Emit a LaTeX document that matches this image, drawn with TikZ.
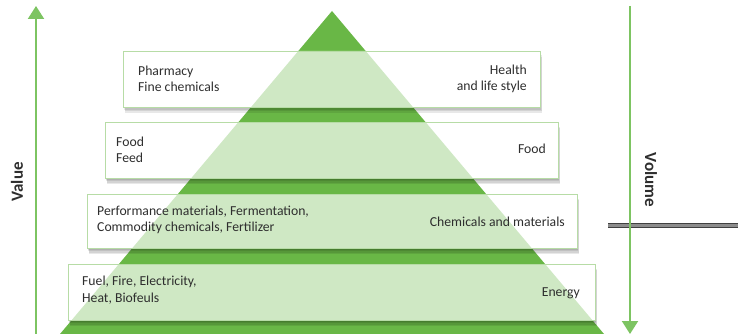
\documentclass[tikz,border=0pt]{standalone}
\usepackage{fontspec}
\setmainfont{Carlito}
\usetikzlibrary{arrows.meta}
\definecolor{darkg}{HTML}{69B746}
\definecolor{lightg}{HTML}{CFE8C4}
\definecolor{boxline}{HTML}{B7DCA6}
\definecolor{arrowg}{HTML}{7DC462}
\definecolor{txt}{HTML}{2E2E2E}
\tikzset{
  tier/.style={draw=boxline, line width=0.8pt, fill=white, anchor=north west, inner sep=0pt},
  tierline/.style={draw=boxline, line width=0.8pt},
  shadowfill/.style={fill=black, opacity=0.09},
  ltext/.style={anchor=west, align=left, text=txt, font=\fontsize{13.7}{16.5}\selectfont, inner sep=0pt},
  rtext/.style={anchor=east, align=right, text=txt, font=\fontsize{13.7}{16.5}\selectfont, inner sep=0pt},
  axis/.style={draw=arrowg, line width=2pt, -{Triangle[width=16pt,length=13pt]}},
  axislabel/.style={font=\bfseries\fontsize{17}{20}\selectfont, text=txt, inner sep=0pt},
}
\begin{document}
\begin{tikzpicture}[x=1pt,y=-1pt]
\useasboundingbox (0,0) rectangle (738,334);
% dark pyramid
\coordinate (apex) at (332,11);
\coordinate (baseR) at (604,334);
\coordinate (baseL) at (60,334);
\fill[darkg] (apex) -- (baseR) -- (baseL) -- cycle;
% shadows under tiers
\foreach \l/\t/\r/\bt in {123/51/540/107, 105/122/558/178, 87/194/577/248, 68/264/595/320} {
  \foreach \s in {1.5,3,4.5,6} {
    \fill[shadowfill] (\l+\s*0.4,\t+\s) rectangle (\r+\s*0.4,\bt+\s);
  }
}
% tiers
\node[tier, minimum width=417pt, minimum height=56pt] (b1) at (123,51) {};
\node[tier, minimum width=453pt, minimum height=56pt] (b2) at (105,122) {};
\node[tier, minimum width=490pt, minimum height=54pt] (b3) at (87,194) {};
\node[tier, minimum width=527pt, minimum height=56pt] (b4) at (68,264) {};
% light pyramid inside tiers
\begin{scope}
\clip (b1.north west) rectangle (b1.south east)
      (b2.north west) rectangle (b2.south east)
      (b3.north west) rectangle (b3.south east)
      (b4.north west) rectangle (b4.south east);
\fill[lightg] (apex) -- (baseR) -- (baseL) -- cycle;
\end{scope}
\foreach \b in {b1,b2,b3,b4} {\draw[tierline] (\b.north west) rectangle (\b.south east);}
% texts
\node[ltext] (l1) at (138,79) {Pharmacy\\Fine chemicals};
\node[rtext] (r1) at (527,79) {Health\\and life style};
\node[ltext] (l2) at (116,150) {Food\\Feed};
\node[rtext] (r2) at (546,149) {Food};
\node[ltext] (l3) at (97,220) {Performance materials, Fermentation,\\Commodity chemicals, Fertilizer};
\node[rtext] (r3) at (565,222) {Chemicals and materials};
\node[ltext] (l4) at (82,290) {Fuel, Fire, Electricity,\\Heat, Biofeuls};
\node[rtext] (r4) at (580,293) {Energy};
% gray bar
\coordinate (barL) at (608,225.5);
\coordinate (barR) at (745,225.5);
\draw[draw=black!75, line width=1pt, double=black!45, double distance=3.5pt] (barL) -- (barR);
% axes
\coordinate (vb) at (36,334);
\coordinate (vt) at (36,6);
\draw[axis] (vb) -- (vt);
\coordinate (wt) at (630,6);
\coordinate (wb) at (630,334);
\draw[axis] (wt) -- (wb);
\node[axislabel, rotate=90] (value) at (17,182) {Value};
\node[axislabel, rotate=-90] (volume) at (651,180) {Volume};
\end{tikzpicture}
\end{document}
